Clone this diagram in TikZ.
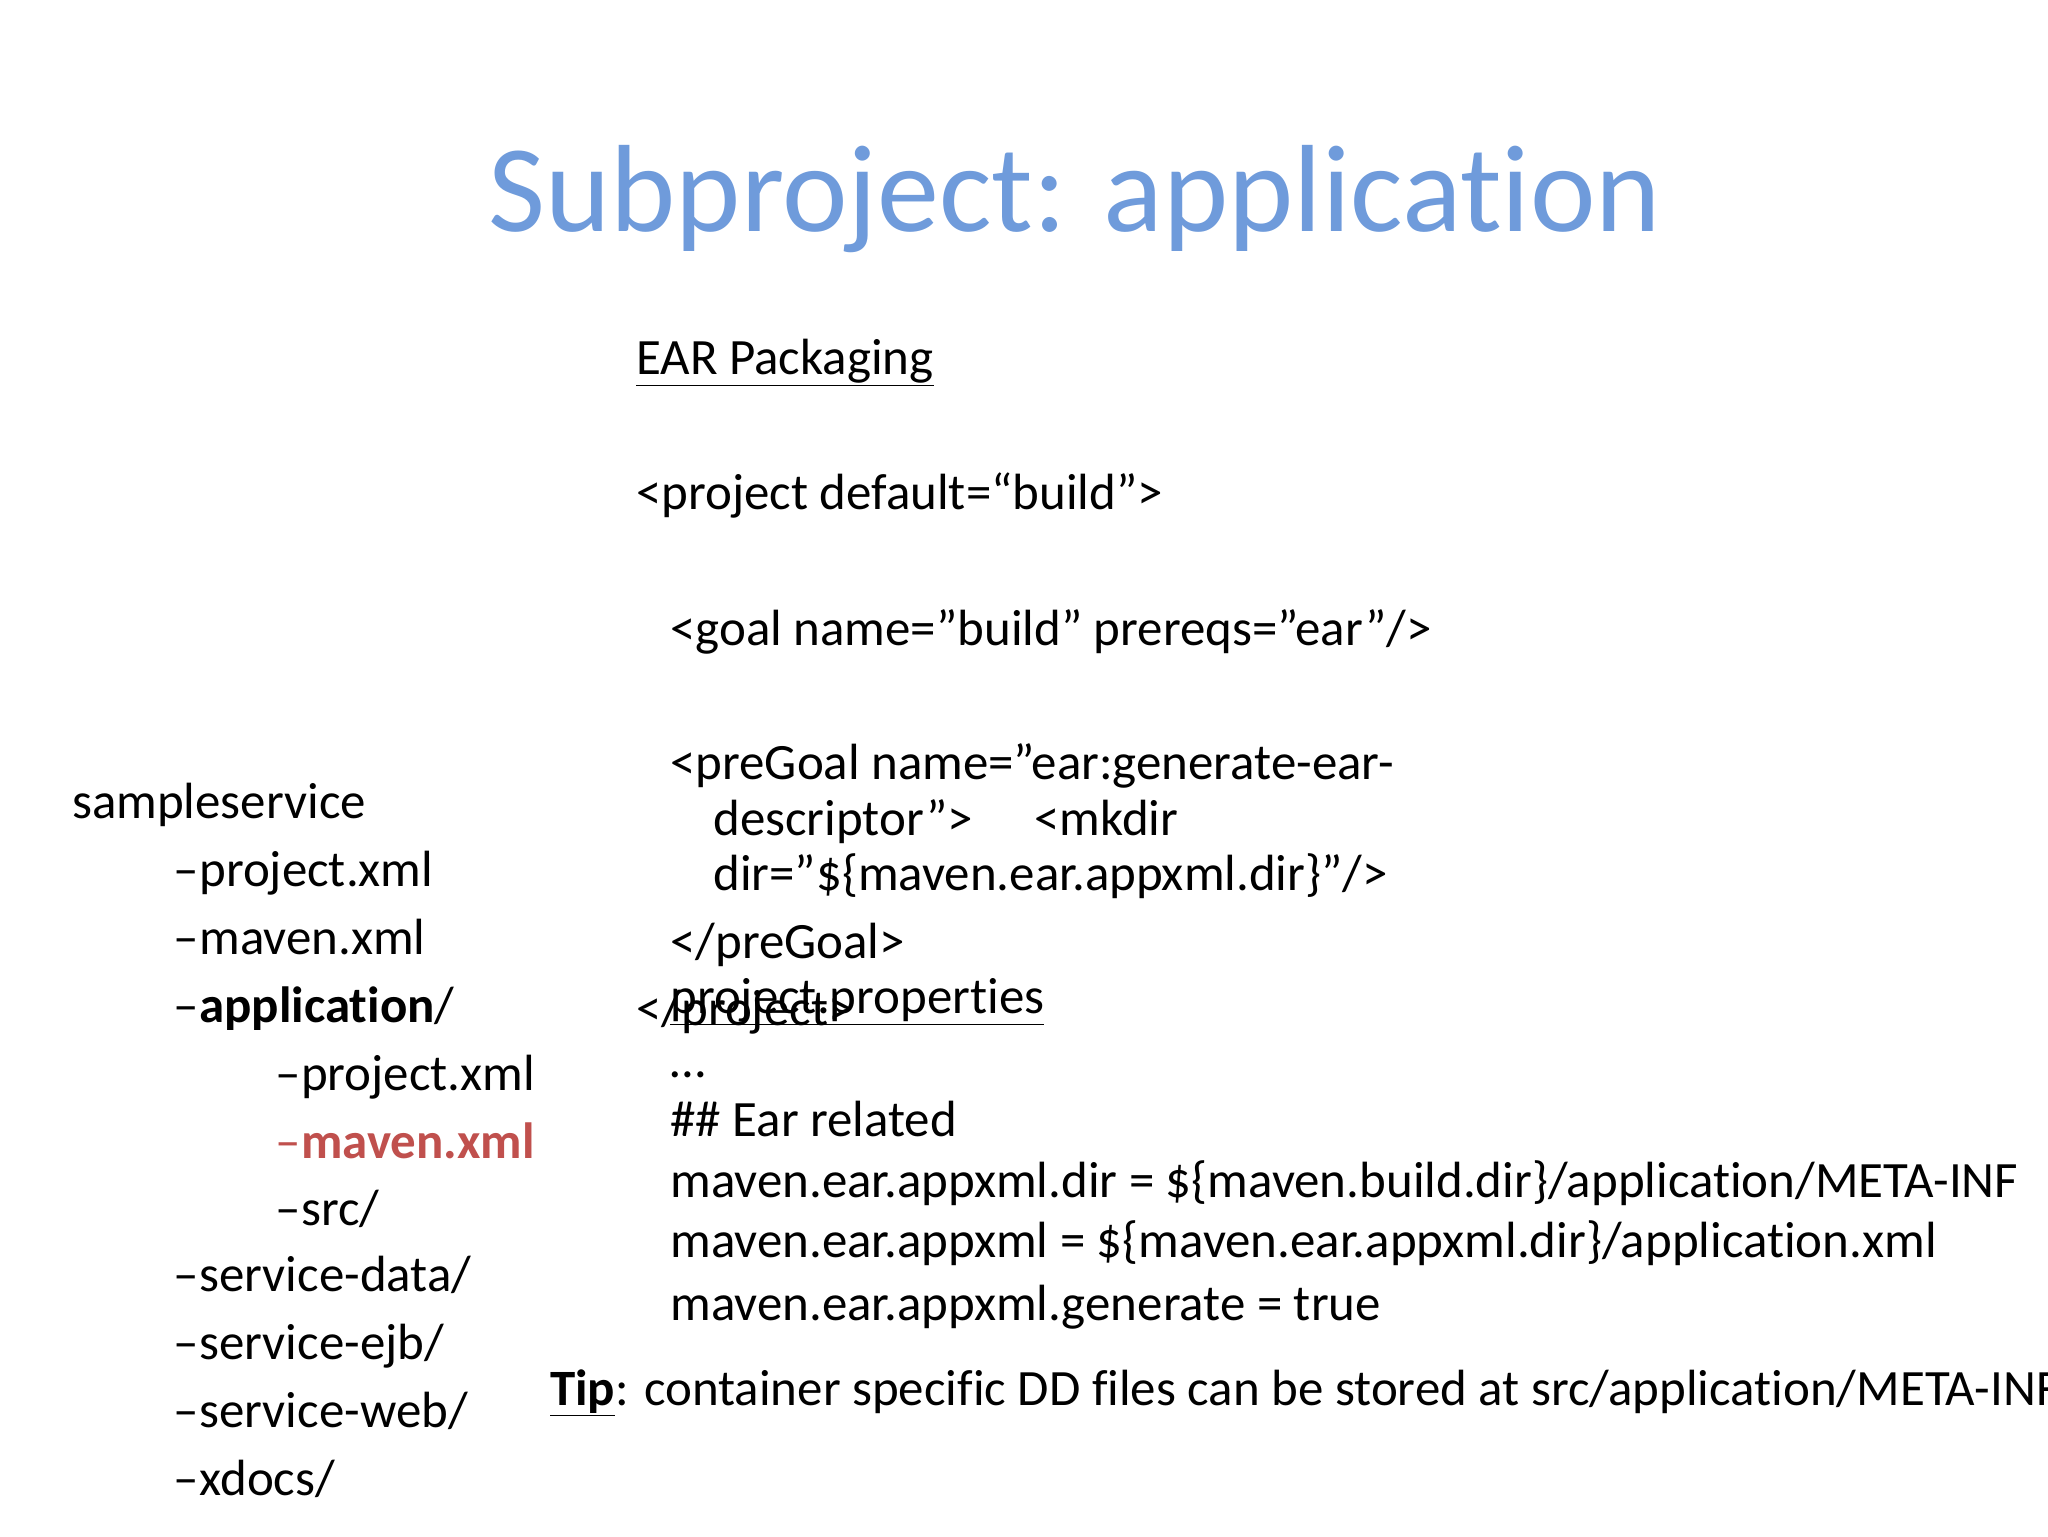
\documentclass[tikz,border=0pt]{standalone}
\usepackage{fontspec}
\setmainfont{Carlito}[Ligatures={NoCommon}]
\definecolor{titleblue}{HTML}{6F9BDB}
\definecolor{redx}{HTML}{C0504D}
\begin{document}
\begin{tikzpicture}[x=1pt,y=-1pt,
  txt/.style={anchor=base west,inner sep=0pt,font=\fontsize{39}{46}\selectfont}]
\clip (0,0) rectangle (1568,1176);
\fill[white] (0,0) rectangle (1568,1176);
\node[font=\fontsize{95}{110}\selectfont,text=titleblue,anchor=base,inner sep=0pt] (title) at (823,177) {Subproject: application};
\node[txt] (ear) at (487,287) {\underline{EAR Packaging}};
\node[txt] (p1) at (487,390) {<project default=“build”>};
\node[txt] (p2) at (513,494) {<goal name="build" prereqs="ear"/>};
\node[txt] (p3) at (513,597) {<preGoal name="ear:generate-ear-};
\node[txt] (p4) at (546,640) {descriptor">\hspace{1.2em}<mkdir};
\node[txt] (p5) at (546,682) {dir="\$\{maven.ear.appxml.dir\}"/>};
\node[txt] (p6) at (513,734) {</preGoal>};
\node[txt] (p7) at (487,785) {</project>};
\node[txt] (pp) at (513,776) {\underline{project.properties}};
\node[txt] (q1) at (513,825) {…};
\node[txt] (q2) at (513,870) {\#\# Ear related};
\node[txt] (q3) at (513,917) {maven.ear.appxml.dir = \$\{maven.build.dir\}/application/META-INF};
\node[txt] (q4) at (513,963) {maven.ear.appxml = \$\{maven.ear.appxml.dir\}/application.xml};
\node[txt] (q5) at (513,1011) {maven.ear.appxml.generate = true};
\node[txt] (tip) at (421,1076) {\textbf{\underline{Tip}}: container specific DD files can be stored at src/application/META-INF};
\node[txt] (s0) at (55,627) {sampleservice};
\node[txt] (s1) at (133,679) {–project.xml};
\node[txt] (s2) at (133,731) {–maven.xml};
\node[txt] (s3) at (133,783) {–\textbf{application}/};
\node[txt] (s4) at (211,835) {–project.xml};
\node[txt,text=redx] (s5) at (211,887) {–\textbf{maven.xml}};
\node[txt] (s6) at (211,938) {–src/};
\node[txt] (s7) at (133,989) {–service-data/};
\node[txt] (s8) at (133,1041) {–service-ejb/};
\node[txt] (s9) at (133,1093) {–service-web/};
\node[txt] (s10) at (133,1145) {–xdocs/};
\end{tikzpicture}
\end{document}
